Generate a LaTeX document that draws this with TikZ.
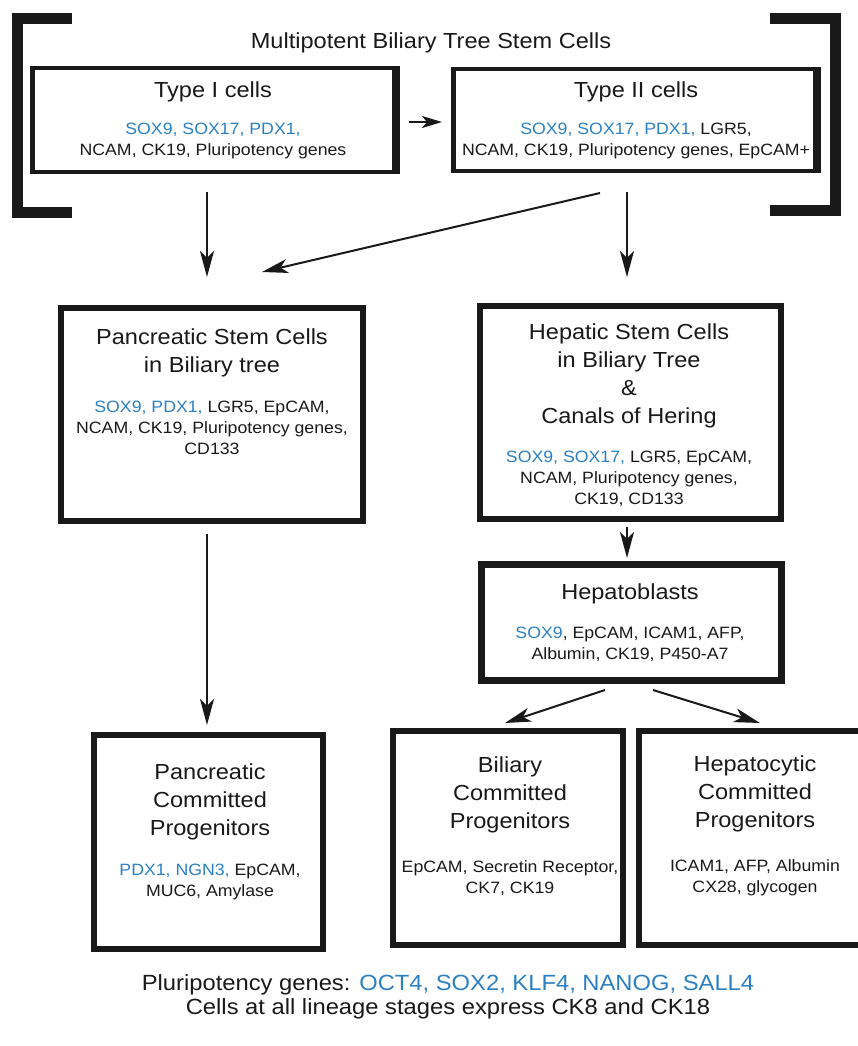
\documentclass[tikz,border=0pt]{standalone}
\usepackage{fontspec}
\setmainfont[FakeStretch=1.08]{Liberation Sans}
\usetikzlibrary{arrows.meta,calc}
\definecolor{cb}{RGB}{43,128,196}
\definecolor{ink}{RGB}{25,25,25}
\begin{document}
\begin{tikzpicture}[x=1pt,y=-1pt,
  box/.style={draw=ink, line width=#1, inner sep=0pt},
  tt/.style={font=\fontsize{21.8}{28}\selectfont, align=center, inner sep=0pt, text=ink},
  mk/.style={font=\fontsize{16.4}{21}\selectfont, align=center, inner sep=0pt, text=ink},
  arr/.style={draw=ink, line width=2pt, -{Stealth[length=26pt,width=14pt,inset=7pt]}},
  sarr/.style={draw=ink, line width=2pt, -{Stealth[length=20pt,width=12pt,inset=5pt]}},
  brk/.style={draw=ink, line width=11pt, line join=miter, line cap=butt}]
\useasboundingbox (0,0) rectangle (858,1046);
\clip (0,0) rectangle (858,1046);

% brackets
\draw[brk] (72,19) -- (17,19) -- (17,212) -- (72,212);
\draw[brk] (770,19) -- (835,19) -- (835,210) -- (770,210);

\node[tt] (mbt) at (431,43) {Multipotent Biliary Tree Stem Cells};

% boxes
\node[box=4.5pt, minimum width=365.5pt, minimum height=103.5pt] (t1) at (215,120) {};
\node[box=4.5pt, minimum width=365.5pt, minimum height=101.5pt] (t2) at (636,120) {};
\draw[ink, line width=4pt] ($(t1.north east)+(-6,2)$) -- ($(t1.south east)+(-6,-2)$);
\draw[ink, line width=4pt] ($(t2.north east)+(-6,2)$) -- ($(t2.south east)+(-6,-2)$);
\node[box=6pt, minimum width=302pt, minimum height=213pt] (psc) at (212,414.5) {};
\node[box=6pt, minimum width=301pt, minimum height=213pt] (hsc) at (630.5,412.5) {};
\node[box=7pt, minimum width=300pt, minimum height=116pt] (hb) at (631.5,622.5) {};
\node[box=6pt, minimum width=229pt, minimum height=214pt] (pcp) at (208.5,842) {};
\node[box=6pt, minimum width=230pt, minimum height=214pt] (bcp) at (508,838) {};
\node[box=6pt, minimum width=232pt, minimum height=214pt] (hcp) at (755,838) {};

% texts
\node[tt] (t1a) at (213,92) {Type I cells};
\node[mk] (t1b) at (213,141) {\textcolor{cb}{SOX9, SOX17, PDX1,}\\NCAM, CK19, Pluripotency genes};
\node[tt] (t2a) at (636,92) {Type II cells};
\node[mk] (t2b) at (636,141) {\textcolor{cb}{SOX9, SOX17, PDX1,} LGR5,\\NCAM, CK19, Pluripotency genes, EpCAM+};
\node[tt] (psca) at (212,353) {Pancreatic Stem Cells\\in Biliary tree};
\node[mk] (pscb) at (212,427.5) {\textcolor{cb}{SOX9, PDX1,} LGR5, EpCAM,\\NCAM, CK19, Pluripotency genes,\\CD133};
\node[tt] (hsca) at (629,376) {Hepatic Stem Cells\\in Biliary Tree\\\&\\Canals of Hering};
\node[mk] (hscb) at (629,479) {\textcolor{cb}{SOX9, SOX17,} LGR5, EpCAM,\\NCAM, Pluripotency genes,\\CK19, CD133};
\node[tt] (hba) at (630,594) {Hepatoblasts};
\node[mk] (hbb) at (630,644) {\textcolor{cb}{SOX9}, EpCAM, ICAM1, AFP,\\Albumin, CK19, P450-A7};
\node[tt] (pcpa) at (210,802) {Pancreatic\\Committed\\Progenitors};
\node[mk] (pcpb) at (210,881.5) {\textcolor{cb}{PDX1, NGN3,} EpCAM,\\MUC6, Amylase};
\node[tt] (bcpa) at (510,795) {Biliary\\Committed\\Progenitors};
\node[mk] (bcpb) at (510,878) {EpCAM, Secretin Receptor,\\CK7, CK19};
\node[tt] (hcpa) at (755,794) {Hepatocytic\\Committed\\Progenitors};
\node[mk] (hcpb) at (755,878) {ICAM1, AFP, Albumin\\CX28, glycogen};
\node[font=\fontsize{22}{24.5}\selectfont, align=center, inner sep=0pt, text=ink] (foot) at (448,997)
  {Pluripotency genes: \textcolor{cb}{OCT4, SOX2, KLF4, NANOG, SALL4}\\Cells at all lineage stages express CK8 and CK18};

% arrows
\draw[sarr, shorten <=9pt, shorten >=9pt] ($(t1.east)+(0,2)$) -- ($(t2.west)+(0,2)$);
\draw[arr] ($(t1.south)+(-8,18)$) -- ($(psc.north)+(-5,-28)$);
\draw[arr] ($(t2.south)+(-9,19)$) -- ($(hsc.north)+(-3.5,-26)$);
\draw[arr] ($(t2.south)+(-36,20)$) -- ($(psc.north)+(50,-33)$);
\draw[arr] ($(psc.south)+(-5,10)$) -- ($(pcp.north)+(-1.5,-7)$);
\draw[arr] ($(hsc.south)+(-3.5,5)$) -- ($(hb.north)+(-4.5,-3)$);
\draw[arr] ($(hb.south)+(-26.5,6)$) -- ($(bcp.north)+(-3,-5)$);
\draw[arr] ($(hb.south)+(21.5,6)$) -- ($(hcp.north)+(5,-5)$);
\end{tikzpicture}
\end{document}
